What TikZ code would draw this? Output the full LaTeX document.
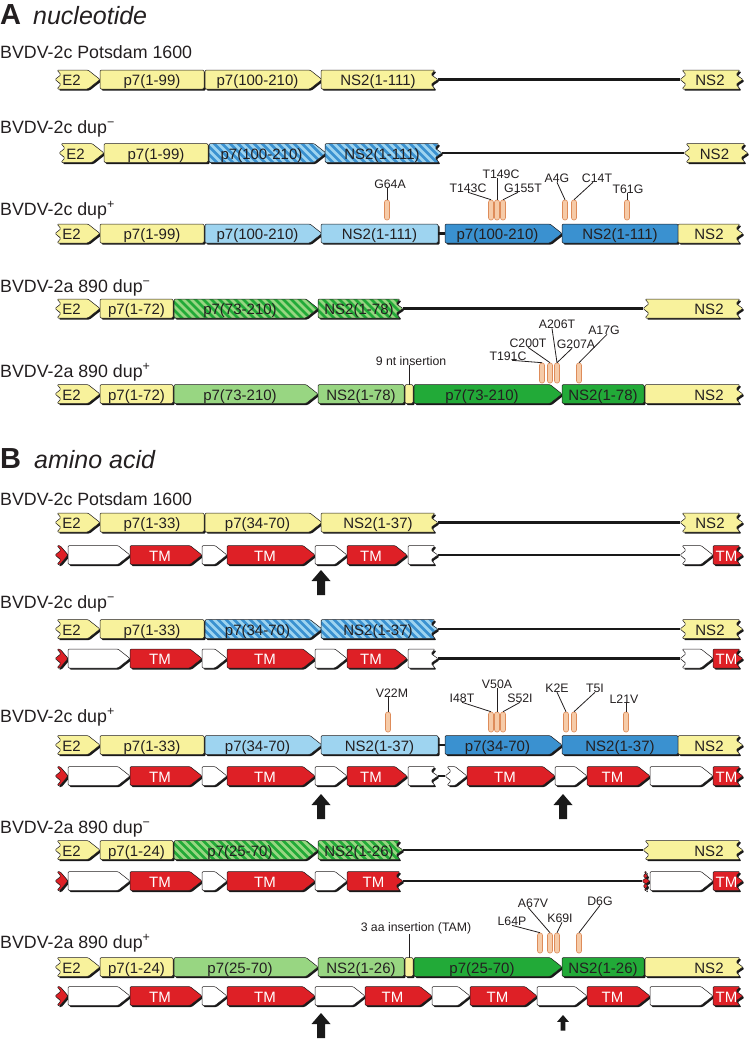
\documentclass[tikz,border=0pt]{standalone}
\usepackage{fontspec}
\setmainfont{Liberation Sans}
\usetikzlibrary{calc, positioning}

\definecolor{yel}{RGB}{248,242,156}
\definecolor{ltblue}{RGB}{158,212,240}
\definecolor{dkblue}{RGB}{58,145,208}
\definecolor{ltgreen}{RGB}{152,214,130}
\definecolor{dkgreen}{RGB}{34,170,56}
\definecolor{tmred}{RGB}{222,32,38}
\definecolor{pillfill}{RGB}{246,203,168}
\definecolor{pillline}{RGB}{222,140,90}
\definecolor{txtgray}{RGB}{35,31,32}

\def\hh{9.5}
% edge kinds: f flat, a arrow, s small arrow, z break
\def\edgeLf{\def\lA{0}\def\lB{0}\def\lC{0}}
\def\edgeLz{\def\lA{2}\def\lB{6}\def\lC{0}}
\def\edgeRf{\def\rA{0}\def\rB{0}\def\rC{0}}
\def\edgeRa{\def\rA{-12}\def\rB{-6}\def\rC{0}}
\def\edgeRs{\def\rA{-8}\def\rB{-4}\def\rC{0}}
\def\edgeRz{\def\rA{-3}\def\rB{-7}\def\rC{0}}
\newcommand{\tmtext}{\textcolor{white}{TM}}

\tikzset{
  segline/.style={draw=txtgray, line width=0.5, rounded corners=1.2},
  segshadow/.style={fill=black!90, rounded corners=1.2},
  boxtext/.style={font=\fontsize{15}{15}\selectfont, text=txtgray, anchor=base, inner sep=0},
  rowlabel/.style={font=\fontsize{17.8}{18}\selectfont, text=txtgray, anchor=base west, inner sep=0},
  titleletter/.style={font=\fontsize{29}{29}\selectfont\bfseries, text=txtgray, anchor=base west, inner sep=0},
  titleword/.style={font=\fontsize{25}{25}\selectfont\itshape, text=txtgray, anchor=base west, inner sep=0},
  mutlabel/.style={font=\fontsize{12.3}{12.3}\selectfont, text=txtgray, anchor=base, inner sep=0},
  pill/.style={draw=pillline, fill=pillfill, line width=0.6, rounded corners=2.2, minimum width=5, minimum height=20, inner sep=0},
  link/.style={draw=black!90, line width=2.6},
  leader/.style={draw=txtgray, line width=0.8},
  arrowfill/.style={fill=black!90},
}

\newcommand{\segshape}[5]{%
  \csname edgeL#4\endcsname\csname edgeR#5\endcsname
  \edef\segpath{({#1+\lA},{#3-\hh}) -- ({#2+\rA},{#3-\hh}) -- ({#2+\rB},{#3-\hh/2}) -- ({#2+\rC},#3) -- ({#2+\rB},{#3+\hh/2}) -- ({#2+\rA},{#3+\hh}) -- ({#1+\lA},{#3+\hh}) -- ({#1+\lB},{#3+\hh/2}) -- ({#1+\lC},#3) -- ({#1+\lB},{#3-\hh/2}) -- cycle}%
}

% [label x] name, x1, x2, y, left, right, fill, label
\newcommand{\seg}[9][]{%
  \segshape{#3}{#4}{#5}{#6}{#7}%
  \fill[segshadow, shift={(1.6,1.6)}] \segpath;
  \path[segline, fill=#8] \segpath;
  \coordinate (#2-w) at ({#3+\lC},#5);
  \coordinate (#2-e) at ({#4+\rC},#5);
  \coordinate (#2-n) at ({(#3+#4)/2},{#5-\hh});
  \ifx\relax#1\relax\pgfmathsetmacro\segtx{(#3+#4+\rA)/2}\else\def\segtx{#1}\fi
  \node[boxtext] (#2) at (\segtx,{#5+6}) {#9};
}

% name, x1, x2, y, left, right, base, stripe, label
\newcommand{\hseg}[9]{%
  \segshape{#2}{#3}{#4}{#5}{#6}%
  \fill[segshadow, shift={(1.6,1.6)}] \segpath;
  \begin{scope}
    \clip[rounded corners=1.2] \segpath;
    \fill[#7] ({#2-20},{#4-15}) rectangle ({#3+5},{#4+15});
    \pgfmathtruncatemacro\nst{(#3-#2+30)/8}
    \foreach \hk in {0,...,\nst} \draw[#8, line width=2.8] ({#2-22+8*\hk},{#4-\hh-3}) -- ++(26,26);
  \end{scope}
  \path[segline] \segpath;
  \coordinate (#1-w) at ({#2+\lC},#4);
  \coordinate (#1-e) at ({#3+\rC},#4);
  \node[boxtext] (#1) at ({(#2+#3+\rA)/2},{#4+6}) {#9};
}

% prefix, y
\newcommand{\tmhead}[2]{%
  \seg{#1t0}{55}{68}{#2}{z}{s}{tmred}{}
  \seg{#1w1}{68}{130}{#2}{f}{a}{white}{}
  \seg{#1tm1}{130}{202}{#2}{f}{a}{tmred}{\tmtext}
  \seg{#1w2}{202}{227}{#2}{f}{a}{white}{}
  \seg{#1tm2}{227}{315}{#2}{f}{a}{tmred}{\tmtext}}

% x, tip y, scale
\newcommand{\uparr}[3]{%
  \fill[arrowfill] (#1,#2) -- ++({9.5*#3},{11*#3}) -- ++({-5.5*#3},0) -- ++(0,{14*#3}) -- ++({-8*#3},0) -- ++(0,{-14*#3}) -- ++({-5.5*#3},0) -- cycle;}

\begin{document}
\begin{tikzpicture}[x=1pt, y=-1pt]
\useasboundingbox (0,0) rectangle (750,1039);
\fill[white] (0,0) rectangle (750,1039);

% A nucleotide
\node[titleletter] (tA) at (0,24) {A};
\node[titleword] (tAword) at (33,24) {nucleotide};

\node[rowlabel] (lA1) at (0,58) {BVDV-2c Potsdam 1600};
\seg{a1e2}{55}{100}{79.5}{z}{a}{yel}{E2}
\seg{a1p7a}{100}{204}{79.5}{f}{f}{yel}{p7(1-99)}
\seg{a1p7b}{205}{322}{79.5}{f}{a}{yel}{p7(100-210)}
\seg{a1ns2a}{321}{438}{79.5}{f}{z}{yel}{NS2(1-111)}
\seg{a1ns2}{680}{743}{79.5}{z}{z}{yel}{NS2}
\draw[link] (a1ns2a-e) -- (a1ns2-w);

\node[rowlabel] (lA2) at (0,133) {BVDV-2c dup\textsuperscript{−}};
\seg{a2e2}{59}{104}{153}{z}{a}{yel}{E2}
\seg{a2p7a}{104}{208}{153}{f}{f}{yel}{p7(1-99)}
\hseg{a2p7b}{209}{326}{153}{f}{a}{ltblue}{dkblue}{p7(100-210)}
\hseg{a2ns2a}{325}{442}{153}{f}{z}{ltblue}{dkblue}{NS2(1-111)}
\seg{a2ns2}{684}{748}{153}{z}{z}{yel}{NS2}
\draw[link] (a2ns2a-e) -- (a2ns2-w);

\node[rowlabel] (lA3) at (0,215) {BVDV-2c dup\textsuperscript{+}};
\seg{a3e2}{55}{100}{233.5}{z}{a}{yel}{E2}
\seg{a3p7a}{100}{204}{233.5}{f}{f}{yel}{p7(1-99)}
\seg{a3p7b}{205}{322}{233.5}{f}{a}{ltblue}{p7(100-210)}
\seg{a3ns2a}{321}{438}{233.5}{f}{f}{ltblue}{NS2(1-111)}
\seg{a3p7c}{445}{562}{233.5}{f}{a}{dkblue}{p7(100-210)}
\seg{a3ns2b}{562}{678}{233.5}{f}{f}{dkblue}{NS2(1-111)}
\seg{a3ns2}{678}{743}{233.5}{f}{z}{yel}{NS2}
\draw[link] (a3ns2a-e) -- (a3p7c-w);
\node[pill] (a3m1) at (387,210) {};
\node[pill] (a3m2) at (491,210) {};
\node[pill] (a3m3) at (497,210) {};
\node[pill] (a3m4) at (503,210) {};
\node[pill] (a3m5) at (565,210) {};
\node[pill] (a3m6) at (574,210) {};
\node[pill] (a3m7) at (627,210) {};
\node[mutlabel] (g64a) at (390,188) {G64A};
\node[mutlabel] (t143c) at (468,192) {T143C};
\node[mutlabel] (t149c) at (501,178) {T149C};
\node[mutlabel] (g155t) at (523,192) {G155T};
\node[mutlabel] (a4g) at (557,182) {A4G};
\node[mutlabel] (c14t) at (597,182) {C14T};
\node[mutlabel] (t61g) at (628,193) {T61G};
\draw[leader] (a3m1.north |- g64a.south) -- (a3m1.north);
\draw[leader] (t143c.south) -- (a3m2.north);
\draw[leader] (a3m3.north |- t149c.south) -- (a3m3.north);
\draw[leader] ([xshift=-5pt]g155t.south) -- (a3m4.north);
\draw[leader] (a4g.south) -- (a3m5.north);
\draw[leader] ([xshift=-4pt]c14t.south) -- (a3m6.north);
\draw[leader] (a3m7.north |- t61g.south) -- (a3m7.north);

\node[rowlabel] (lA4) at (0,292) {BVDV-2a 890 dup\textsuperscript{−}};
\seg{a4e2}{55}{100}{308.5}{z}{a}{yel}{E2}
\seg{a4p7a}{100}{173}{308.5}{f}{f}{yel}{p7(1-72)}
\hseg{a4p7b}{174}{318}{308.5}{f}{a}{ltgreen}{dkgreen}{p7(73-210)}
\hseg{a4ns2a}{318}{403}{308.5}{f}{z}{ltgreen}{dkgreen}{NS2(1-78)}
\seg[709]{a4ns2}{643}{743}{308.5}{z}{z}{yel}{NS2}
\draw[link] (a4ns2a-e) -- (a4ns2-w);

\node[rowlabel] (lA5) at (0,377) {BVDV-2a 890 dup\textsuperscript{+}};
\seg{a5e2}{55}{100}{394}{z}{a}{yel}{E2}
\seg{a5p7a}{100}{173}{394}{f}{f}{yel}{p7(1-72)}
\seg{a5p7b}{174}{318}{394}{f}{a}{ltgreen}{p7(73-210)}
\seg{a5ns2a}{318}{404}{394}{f}{f}{ltgreen}{NS2(1-78)}
\seg{a5ins}{405}{413}{394}{f}{f}{yel}{}
\seg{a5p7c}{414}{562}{394}{f}{a}{dkgreen}{p7(73-210)}
\seg{a5ns2b}{562}{644}{394}{f}{f}{dkgreen}{NS2(1-78)}
\seg[709]{a5ns2}{645}{743}{394}{f}{z}{yel}{NS2}
\node[mutlabel] (ins9) at (411,365) {9 nt insertion};
\draw[leader] (a5ins-n |- ins9.south) -- (a5ins-n);
\node[pill] (a5m1) at (542,373) {};
\node[pill] (a5m2) at (550,373) {};
\node[pill] (a5m3) at (557,373) {};
\node[pill] (a5m4) at (579,373) {};
\node[mutlabel] (t191c) at (508,360) {T191C};
\node[mutlabel] (c200t) at (528,347) {C200T};
\node[mutlabel] (a206t) at (557,328) {A206T};
\node[mutlabel] (g207a) at (576,348) {G207A};
\node[mutlabel] (a17g) at (604,334) {A17G};
\draw[leader] ([xshift=4pt]t191c.south) -- (a5m1.north);
\draw[leader] (c200t.south) -- (a5m2.north);
\draw[leader] ([xshift=-5pt]a206t.south) -- (a5m3.north);
\draw[leader] ([xshift=-4pt]g207a.south) -- (a5m3.north);
\draw[leader] ([xshift=3pt]a17g.south) -- (a5m4.north);

% B amino acid
\node[titleletter] (tB) at (0,468) {B};
\node[titleword] (tBword) at (34,468) {amino acid};

\node[rowlabel] (lB1) at (0,505) {BVDV-2c Potsdam 1600};
\seg{b1e2}{55}{100}{522.5}{z}{a}{yel}{E2}
\seg{b1p7a}{100}{204}{522.5}{f}{f}{yel}{p7(1-33)}
\seg{b1p7b}{205}{322}{522.5}{f}{a}{yel}{p7(34-70)}
\seg{b1ns2a}{321}{438}{522.5}{f}{z}{yel}{NS2(1-37)}
\seg{b1ns2}{680}{743}{522.5}{z}{z}{yel}{NS2}
\draw[link] (b1ns2a-e) -- (b1ns2-w);
\tmhead{b1}{555}
\seg{b1w3}{315}{347}{555}{f}{a}{white}{}
\seg{b1tm3}{347}{407}{555}{f}{a}{tmred}{\tmtext}
\seg{b1w4}{408}{438}{555}{f}{z}{white}{}
\seg{b1w5}{680}{713}{555}{z}{a}{white}{}
\seg{b1tm4}{713}{743}{555}{f}{z}{tmred}{\tmtext}
\draw[link] (b1w4-e) -- (b1w5-w);
\uparr{321}{570}{1}

\node[rowlabel] (lB2) at (0,608) {BVDV-2c dup\textsuperscript{−}};
\seg{b2e2}{55}{100}{629}{z}{a}{yel}{E2}
\seg{b2p7a}{100}{204}{629}{f}{f}{yel}{p7(1-33)}
\hseg{b2p7b}{205}{322}{629}{f}{a}{ltblue}{dkblue}{p7(34-70)}
\hseg{b2ns2a}{321}{438}{629}{f}{z}{ltblue}{dkblue}{NS2(1-37)}
\seg{b2ns2}{680}{743}{629}{z}{z}{yel}{NS2}
\draw[link] (b2ns2a-e) -- (b2ns2-w);
\tmhead{b2}{658.5}
\seg{b2w3}{315}{347}{658.5}{f}{a}{white}{}
\seg{b2tm3}{347}{407}{658.5}{f}{a}{tmred}{\tmtext}
\seg{b2w4}{408}{438}{658.5}{f}{z}{white}{}
\seg{b2w5}{680}{713}{658.5}{z}{a}{white}{}
\seg{b2tm4}{713}{743}{658.5}{f}{z}{tmred}{\tmtext}
\draw[link] (b2w4-e) -- (b2w5-w);

\node[rowlabel] (lB3) at (0,722) {BVDV-2c dup\textsuperscript{+}};
\seg{b3e2}{55}{100}{745}{z}{a}{yel}{E2}
\seg{b3p7a}{100}{204}{745}{f}{f}{yel}{p7(1-33)}
\seg{b3p7b}{205}{322}{745}{f}{a}{ltblue}{p7(34-70)}
\seg{b3ns2a}{321}{438}{745}{f}{f}{ltblue}{NS2(1-37)}
\seg{b3p7c}{445}{562}{745}{f}{a}{dkblue}{p7(34-70)}
\seg{b3ns2b}{562}{678}{745}{f}{f}{dkblue}{NS2(1-37)}
\seg{b3ns2}{678}{743}{745}{f}{z}{yel}{NS2}
\draw[link] (b3ns2a-e) -- (b3p7c-w);
\tmhead{b3}{776}
\seg{b3w3}{315}{347}{776}{f}{a}{white}{}
\seg{b3tm3}{347}{407}{776}{f}{a}{tmred}{\tmtext}
\seg{b3w4}{408}{438}{776}{f}{z}{white}{}
\seg{b3w5}{445}{467}{776}{z}{a}{white}{}
\seg{b3tm4}{467}{555}{776}{f}{a}{tmred}{\tmtext}
\seg{b3w6}{555}{587}{776}{f}{a}{white}{}
\seg{b3tm5}{587}{650}{776}{f}{a}{tmred}{\tmtext}
\seg{b3w7}{650}{713}{776}{f}{a}{white}{}
\seg{b3tm6}{713}{743}{776}{f}{z}{tmred}{\tmtext}
\draw[link] (b3w4-e) -- (b3w5-w);
\uparr{321}{794}{1}
\uparr{563}{794}{1}
\node[pill] (b3m1) at (388,722) {};
\node[pill] (b3m2) at (491,722) {};
\node[pill] (b3m3) at (497,722) {};
\node[pill] (b3m4) at (503,722) {};
\node[pill] (b3m5) at (566,722) {};
\node[pill] (b3m6) at (574,722) {};
\node[pill] (b3m7) at (626,722) {};
\node[mutlabel] (v22m) at (392,697) {V22M};
\node[mutlabel] (i48t) at (462,702) {I48T};
\node[mutlabel] (v50a) at (497,688) {V50A};
\node[mutlabel] (s52i) at (520,702) {S52I};
\node[mutlabel] (k2e) at (557,692) {K2E};
\node[mutlabel] (t5i) at (595,692) {T5I};
\node[mutlabel] (l21v) at (624,703) {L21V};
\draw[leader] (b3m1.north |- v22m.south) -- (b3m1.north);
\draw[leader] (i48t.south) -- (b3m2.north);
\draw[leader] (b3m3.north |- v50a.south) -- (b3m3.north);
\draw[leader] (s52i.south) -- (b3m4.north);
\draw[leader] (k2e.south) -- (b3m5.north);
\draw[leader] (t5i.south) -- (b3m6.north);
\draw[leader] (b3m7.north |- l21v.south) -- (b3m7.north);

\node[rowlabel] (lB4) at (0,833) {BVDV-2a 890 dup\textsuperscript{−}};
\seg{b4e2}{55}{100}{850}{z}{a}{yel}{E2}
\seg{b4p7a}{100}{173}{850}{f}{f}{yel}{p7(1-24)}
\hseg{b4p7b}{174}{318}{850}{f}{a}{ltgreen}{dkgreen}{p7(25-70)}
\hseg{b4ns2a}{318}{403}{850}{f}{z}{ltgreen}{dkgreen}{NS2(1-26)}
\seg[709]{b4ns2}{643}{743}{850}{z}{z}{yel}{NS2}
\draw[link] (b4ns2a-e) -- (b4ns2-w);
\tmhead{b4}{881}
\seg{b4w3}{315}{347}{881}{f}{a}{white}{}
\seg{b4tm3}{347}{403}{881}{f}{z}{tmred}{\tmtext}
\seg{b4x}{642}{650}{881}{z}{z}{tmred}{}
\seg{b4w4}{650}{713}{881}{f}{a}{white}{}
\seg{b4tm4}{713}{743}{881}{f}{z}{tmred}{\tmtext}
\draw[link] (b4tm3-e) -- (b4x-w);

\node[rowlabel] (lB5) at (0,948) {BVDV-2a 890 dup\textsuperscript{+}};
\seg{b5e2}{55}{100}{967}{z}{a}{yel}{E2}
\seg{b5p7a}{100}{173}{967}{f}{f}{yel}{p7(1-24)}
\seg{b5p7b}{174}{318}{967}{f}{a}{ltgreen}{p7(25-70)}
\seg{b5ns2a}{318}{404}{967}{f}{f}{ltgreen}{NS2(1-26)}
\seg{b5ins}{405}{413}{967}{f}{f}{yel}{}
\seg{b5p7c}{414}{562}{967}{f}{a}{dkgreen}{p7(25-70)}
\seg{b5ns2b}{562}{644}{967}{f}{f}{dkgreen}{NS2(1-26)}
\seg[709]{b5ns2}{645}{743}{967}{f}{z}{yel}{NS2}
\tmhead{b5}{996}
\seg{b5w3}{315}{365}{996}{f}{a}{white}{}
\seg{b5tm3}{365}{432}{996}{f}{a}{tmred}{\tmtext}
\seg{b5w4}{432}{470}{996}{f}{a}{white}{}
\seg{b5tm4}{470}{537}{996}{f}{a}{tmred}{\tmtext}
\seg{b5w5}{537}{587}{996}{f}{a}{white}{}
\seg{b5tm5}{587}{650}{996}{f}{a}{tmred}{\tmtext}
\seg{b5w6}{650}{713}{996}{f}{a}{white}{}
\seg{b5tm6}{713}{743}{996}{f}{z}{tmred}{\tmtext}
\uparr{321}{1013}{1}
\uparr{563}{1015}{0.62}
\node[mutlabel] (ins3) at (416,931) {3 aa insertion (TAM)};
\draw[leader] (b5ins-n |- ins3.south) -- (b5ins-n);
\node[pill] (b5m1) at (540,943) {};
\node[pill] (b5m2) at (550,943) {};
\node[pill] (b5m3) at (557,943) {};
\node[pill] (b5m4) at (579,943) {};
\node[mutlabel] (l64p) at (512,925) {L64P};
\node[mutlabel] (a67v) at (533,907) {A67V};
\node[mutlabel] (k69i) at (560,922) {K69I};
\node[mutlabel] (d6g) at (600,905) {D6G};
\draw[leader] (l64p.south) -- (b5m1.north);
\draw[leader] ([xshift=-5pt]a67v.south) -- (b5m2.north);
\draw[leader] ([xshift=2pt]k69i.south) -- (b5m3.north);
\draw[leader] (d6g.south) -- (b5m4.north);

\end{tikzpicture}
\end{document}
